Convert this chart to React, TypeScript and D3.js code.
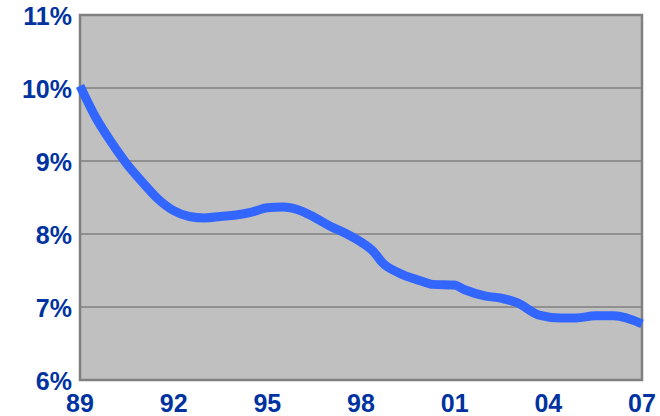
import React, { useEffect, useRef } from "react";
import * as d3 from "d3";

// year (decimal, 89 = 1989) and rate in percent
const years = [
  1989, 1989.5, 1990, 1990.5, 1991, 1991.5, 1992, 1992.5, 1993, 1993.5, 1994,
  1994.5, 1995, 1995.5, 1996, 1996.5, 1997, 1997.5, 1998, 1998.4, 1998.7,
  1999.2, 1999.9, 2000.3, 2001, 2001.3, 2002, 2002.5, 2003, 2003.7, 2004.4,
  2004.9, 2005.5, 2006.1, 2007,
];
const rates = [
  10.03, 9.6, 9.26, 8.96, 8.71, 8.48, 8.32, 8.24, 8.22, 8.24, 8.26, 8.3, 8.36,
  8.37, 8.33, 8.23, 8.11, 8.01, 7.89, 7.76, 7.6, 7.47, 7.36, 7.31, 7.3, 7.24,
  7.15, 7.12, 7.06, 6.89, 6.85, 6.85, 6.88, 6.88, 6.77,
];
const xTicks = [1989, 1992, 1995, 1998, 2001, 2004, 2007];
const yTicks = [6, 7, 8, 9, 10, 11];

export default function App() {
  const svgRef = useRef<SVGSVGElement>(null);

  useEffect(() => {
    const width = 660;
    const height = 416;
    const margin = { top: 15, right: 18, bottom: 36, left: 80 };
    const w = width - margin.left - margin.right;
    const h = height - margin.top - margin.bottom;

    const root = d3.select(svgRef.current);
    root.selectAll("*").remove();

    const svg = root
      .append("g")
      .attr("transform", `translate(${margin.left},${margin.top})`);

    const x = d3.scaleLinear().domain([1989, 2007]).range([0, w]);
    const y = d3.scaleLinear().domain([6, 11]).range([h, 0]);

    svg.append("rect")
      .attr("width", w)
      .attr("height", h)
      .attr("fill", "#c0c0c0");

    svg.selectAll("line.grid")
      .data(yTicks.slice(1, -1))
      .enter()
      .append("line")
      .attr("x1", 0)
      .attr("x2", w)
      .attr("y1", d => y(d))
      .attr("y2", d => y(d))
      .attr("stroke", "#808080")
      .attr("stroke-width", 1.5);

    svg.append("rect")
      .attr("width", w)
      .attr("height", h)
      .attr("fill", "none")
      .attr("stroke", "#808080")
      .attr("stroke-width", 2.5);

    const line = d3.line<number>()
      .x((d, i) => x(years[i]))
      .y(d => y(d))
      .curve(d3.curveMonotoneX);

    svg.append("path")
      .datum(rates)
      .attr("fill", "none")
      .attr("stroke", "#3366ff")
      .attr("stroke-width", 9)
      .attr("stroke-linejoin", "round")
      .attr("d", line);

    const font = "'Liberation Sans', Arial, sans-serif";

    svg.selectAll("text.y")
      .data(yTicks)
      .enter()
      .append("text")
      .attr("x", -8)
      .attr("y", d => y(d) + 10)
      .attr("text-anchor", "end")
      .attr("fill", "#0033a0")
      .style("font-family", font)
      .style("font-weight", "bold")
      .style("font-size", "25px")
      .text(d => `${d}%`);

    svg.selectAll("text.x")
      .data(xTicks)
      .enter()
      .append("text")
      .attr("x", d => x(d))
      .attr("y", h + 32)
      .attr("text-anchor", "middle")
      .attr("fill", "#0033a0")
      .style("font-family", font)
      .style("font-weight", "bold")
      .style("font-size", "25px")
      .text(d => String(d % 100).padStart(2, "0"));
  }, []);

  return (
    <svg
      ref={svgRef}
      width={660}
      height={416}
      style={{ position: "absolute", left: 0, top: 0, background: "#fff" }}
    />
  );
}
